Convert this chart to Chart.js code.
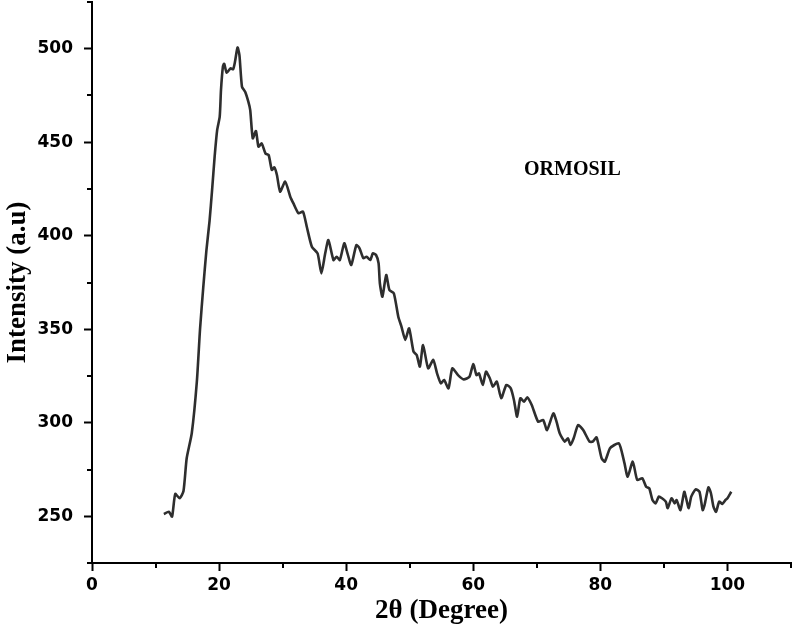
<!DOCTYPE html>
<html><head><meta charset="utf-8">
<script src="https://cdn.jsdelivr.net/npm/chart.js@4/dist/chart.umd.min.js"></script>
<style>html,body{margin:0;padding:0;background:#fff;}canvas{display:block;}</style>
</head><body>
<canvas id="c" width="793" height="634"></canvas>
<script>
const twoTheta = [11.3,12.1,12.6,13.1,13.8,14.4,14.9,15.7,16.5,17.0,17.5,18.0,18.5,18.9,19.3,19.7,20.1,20.3,20.6,20.8,21.2,21.8,22.2,22.5,22.9,23.2,23.6,24.1,24.6,24.9,25.3,25.8,26.2,26.7,27.3,27.8,28.3,28.7,29.1,29.6,30.4,31.2,31.7,32.5,33.2,33.8,34.6,35.5,36.1,36.7,37.2,38.0,38.5,39.0,39.7,40.2,40.8,41.6,42.1,42.7,43.2,43.8,44.2,44.7,45.1,45.3,45.7,46.3,46.8,47.5,48.2,48.7,49.3,49.9,50.6,51.1,51.6,52.1,52.9,53.7,54.3,54.9,55.4,56.1,56.7,57.6,58.5,59.4,60.0,60.5,60.9,61.5,62.0,62.6,63.1,63.7,64.4,65.2,65.9,66.4,66.9,67.4,68.0,68.5,69.2,70.2,71.0,71.6,72.6,73.1,73.6,74.4,74.9,75.3,75.8,76.5,77.3,78.3,78.8,79.4,80.2,80.7,81.5,82.2,82.9,83.3,83.8,84.3,85.1,85.8,86.6,87.2,87.7,88.2,88.7,89.2,89.7,90.3,90.6,91.2,91.7,92.0,92.6,93.2,93.5,93.9,94.3,95.0,95.6,96.1,96.4,97.0,97.4,97.8,98.2,98.7,99.2,99.7,100.0,100.6];
const intensity = [251.2,252.4,249.8,261.9,259.6,263.5,281,294.4,322,350,372,392,408,424.5,442.3,456.6,463.7,478,490.4,492,487.2,489.5,489,493,500.7,496.6,479.7,477,471.7,467.2,452.1,456,447.6,449.4,444,443.2,435.2,436.6,432.5,423.6,428.9,420.9,417.3,412,412.9,404.8,394.1,390.6,379.9,390.6,397.7,387,388.8,387,396,390.6,384.4,395,393.3,388,388.8,387,390.6,389.7,385.3,374.6,367.4,379,371,369.2,356.7,351.4,344.3,350.5,338,336.2,330,341.6,329.1,333.6,326.4,321.1,322.9,318.4,329.1,325.5,323.2,324.6,331.4,325.5,326.4,320.2,327.3,323.8,319.3,322,313.1,320.2,318.4,312.2,303.2,313.1,311.3,313.6,309.5,300.6,301.5,296.1,305,300.6,294.4,289.9,291.7,288.1,291.7,298.8,296.1,289.9,289.9,292.2,281,279.2,286.3,288.1,289,285.4,278.3,271.1,279.2,269.4,270.3,265.8,264.9,258.7,256.9,260.5,259.6,257.8,254.3,259.6,256.9,258.7,253.3,263.1,259.6,254.3,260.5,264.4,263.1,253.3,256,265.5,262.3,255.1,252.4,257.8,256.6,258.7,259.6,263.1];
const xMajorTicks = [0,20,40,60,80,100];
const xMinorTicks = [10,30,50,70,90,110];
const yMajorTicks = [250,300,350,400,450,500];
const yMinorTicks = [225,275,325,375,425,475,525];
const sampleLabel = 'ORMOSIL';
const xTitle = '2θ (Degree)';
const yTitle = 'Intensity (a.u)';

const points = twoTheta.map((x,i)=>({x:x, y:intensity[i]}));

const extras = {
  id:'extras',
  afterDraw(chart){
    const ctx = chart.ctx, xs = chart.scales.x, ys = chart.scales.y;
    ctx.save();
    ctx.strokeStyle = '#000'; ctx.lineWidth = 2;
    ctx.beginPath();
    xMinorTicks.forEach(v=>{ const p = Math.round(xs.getPixelForValue(v)); ctx.moveTo(p, xs.top); ctx.lineTo(p, xs.top+5); });
    yMinorTicks.forEach(v=>{ const p = Math.round(ys.getPixelForValue(v)); ctx.moveTo(ys.right, p); ctx.lineTo(ys.right-5, p); });
    ctx.stroke();
    ctx.fillStyle = '#000';
    ctx.font = 'bold 20px "Liberation Serif"';
    ctx.textAlign = 'center'; ctx.textBaseline = 'middle';
    ctx.fillText(sampleLabel, xs.getPixelForValue(75.6), ys.getPixelForValue(435.2));
    ctx.restore();
  }
};

new Chart(document.getElementById('c'), {
  type:'line',
  data:{datasets:[{label:sampleLabel, data:points, borderColor:'#2e2e2e', borderWidth:2.6, pointRadius:0, tension:0.2, fill:false}]},
  options:{
    responsive:false, animation:false, devicePixelRatio:1,
    layout:{padding:{top:2,right:2,left:0,bottom:0}},
    plugins:{legend:{display:false}, tooltip:{enabled:false}},
    scales:{
      x:{type:'linear', min:0, max:110,
        afterBuildTicks:s=>{s.ticks = xMajorTicks.map(v=>({value:v}));},
        afterFit:s=>{s.height = 71; s.paddingLeft = 0; s.paddingRight = 0;},
        grid:{drawOnChartArea:false, drawTicks:true, tickLength:8, tickWidth:2, tickColor:'#000'},
        border:{display:true, color:'#000', width:2},
        ticks:{color:'#000', padding:4, maxRotation:0, autoSkip:false, font:{family:'DejaVu Sans', size:17, weight:'bold'}},
        title:{display:true, text:xTitle, color:'#000', padding:{top:0,bottom:7}, font:{family:'Liberation Serif', size:27, weight:'bold'}}
      },
      y:{type:'linear', min:225, max:525,
        afterBuildTicks:s=>{s.ticks = yMajorTicks.map(v=>({value:v}));},
        afterFit:s=>{s.width = 92; s.paddingTop = 0; s.paddingBottom = 0;},
        grid:{drawOnChartArea:false, drawTicks:true, tickLength:8, tickWidth:2, tickColor:'#000'},
        border:{display:true, color:'#000', width:2},
        ticks:{color:'#000', padding:11, font:{family:'DejaVu Sans', size:17, weight:'bold'}},
        title:{display:true, text:yTitle, color:'#000', padding:{top:2,bottom:0}, font:{family:'Liberation Serif', size:27, weight:'bold'}}
      }
    }
  },
  plugins:[extras]
});
</script>
</body></html>
